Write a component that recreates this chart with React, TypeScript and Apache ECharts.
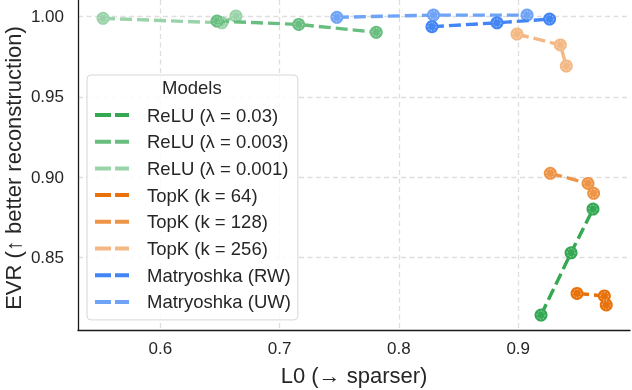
import React, { useEffect, useRef } from "react";
import * as echarts from "echarts";

// [L0, EVR]
const reluL003: number[][] = [[0.9191, 0.8141], [0.9443, 0.8529], [0.9627, 0.8801]];
const reluL0003: number[][] = [[0.6475, 0.9972], [0.716, 0.9951], [0.781, 0.9902]];
const reluL0001: number[][] = [[0.552, 0.9989], [0.6516, 0.9961], [0.6634, 1.0003]];
const topk64: number[][] = [[0.9493, 0.8276], [0.9722, 0.826], [0.9738, 0.8204]];
const topk128: number[][] = [[0.9269, 0.9024], [0.9585, 0.8961], [0.9632, 0.8899]];
const topk256: number[][] = [[0.899, 0.9891], [0.9353, 0.9823], [0.9403, 0.9692]];
const matRW: number[][] = [[0.8277, 0.9937], [0.8822, 0.9961], [0.9263, 0.9984]];
const matUW: number[][] = [[0.748, 0.9995], [0.829, 1.0009], [0.9074, 1.0009]];

const seriesNames = [
  "ReLU (λ = 0.03)",
  "ReLU (λ = 0.003)",
  "ReLU (λ = 0.001)",
  "TopK (k = 64)",
  "TopK (k = 128)",
  "TopK (k = 256)",
  "Matryoshka (RW)",
  "Matryoshka (UW)",
];
const seriesData = [reluL003, reluL0003, reluL0001, topk64, topk128, topk256, matRW, matUW];
const seriesColors = ["#34a853", "#67be7e", "#9ad3a9", "#e8710a", "#ee9447", "#f4b884", "#4285f4", "#6fa3f6"];
// drawing order (later = on top)
const drawOrder = [2, 1, 0, 5, 4, 3, 7, 6];

const xTitle = "L0 (→ sparser)";
const yTitle = "EVR (↑ better reconstruction)";
const legendTitle = "Models";

const FONT = "'Liberation Sans', Arial, Helvetica, sans-serif";
const TXT = "#262626";

export default function App() {
  const ref = useRef<HTMLDivElement>(null);
  useEffect(() => {
    if (!ref.current) return;
    const chart = echarts.init(ref.current, null, { renderer: "svg" });
    const series: any[] = [];
    drawOrder.forEach((i, k) => {
      series.push({
        name: seriesNames[i],
        type: "line",
        data: seriesData[i],
        symbol: "circle",
        symbolSize: 13,
        showSymbol: true,
        color: seriesColors[i],
        itemStyle: { color: seriesColors[i] },
        lineStyle: { color: seriesColors[i], width: 3.4, type: [12, 5] },
        z: 2 + k,
      });
    });
    const allPoints: number[][] = [];
    drawOrder.forEach((i) => seriesData[i].forEach((p) => allPoints.push(p)));
    series.push({
      name: "rings",
      type: "scatter",
      data: allPoints,
      symbol: "circle",
      symbolSize: 8,
      silent: true,
      itemStyle: {
        color: "transparent",
        borderColor: "rgba(255,255,255,0.85)",
        borderWidth: 0.8,
        borderType: [1.5, 1.5],
      },
      z: 20,
    });

    chart.setOption({
      animation: false,
      textStyle: { fontFamily: FONT },
      grid: {
        left: 78,
        right: 2,
        top: 0,
        bottom: 60,
        containLabel: false,
        outerBoundsMode: "none",
      },
      xAxis: {
        type: "value",
        min: 0.531,
        max: 0.9937,
        minInterval: 0.1,
        maxInterval: 0.1,
        name: xTitle,
        nameLocation: "middle",
        nameGap: 34,
        nameTextStyle: { fontSize: 22, color: TXT, fontFamily: FONT },
        axisLine: { show: true, lineStyle: { color: "#1a1a1a", width: 1.3 } },
        axisTick: { show: false },
        axisLabel: {
          fontSize: 17,
          color: TXT,
          fontFamily: FONT,
          margin: 10,
          showMinLabel: false,
          showMaxLabel: false,
          formatter: (v: number) => v.toFixed(1),
        },
        splitLine: {
          show: true,
          showMinLine: false,
          showMaxLine: false,
          lineStyle: { color: "#dedede", width: 1.3, type: [5, 3.5] },
        },
      },
      yAxis: {
        type: "value",
        min: 0.8048,
        max: 1.0103,
        minInterval: 0.05,
        maxInterval: 0.05,
        axisLine: { show: true, lineStyle: { color: "#1a1a1a", width: 1.3 } },
        axisTick: { show: false },
        axisLabel: {
          fontSize: 17,
          color: TXT,
          fontFamily: FONT,
          margin: 14,
          showMinLabel: false,
          showMaxLabel: false,
          formatter: (v: number) => v.toFixed(2),
        },
        splitLine: {
          show: true,
          showMinLine: false,
          showMaxLine: false,
          lineStyle: { color: "#dedede", width: 1.3, type: [5, 3.5] },
        },
      },
      legend: {
        orient: "vertical",
        left: 87,
        top: 75,
        padding: [30, 7, 8, 8],
        itemGap: 6.7,
        itemWidth: 34,
        itemHeight: 4,
        backgroundColor: "rgba(255,255,255,0.85)",
        borderColor: "#d6d6d6",
        borderWidth: 1,
        borderRadius: 4,
        data: seriesNames.map((n) => ({
          name: n,
          icon: "path://M0,0h16v4h-16zM20,0h14v4h-14z",
        })),
        textStyle: {
          fontSize: 18.5,
          color: TXT,
          fontFamily: FONT,
          lineHeight: 20,
          padding: [0, 0, 0, 13],
        },
        selectedMode: false,
      },
      graphic: [
        {
          type: "text",
          left: 162,
          top: 78,
          z: 100,
          style: { text: legendTitle, fontSize: 18.5, fill: TXT, fontFamily: FONT },
        },
        {
          type: "text",
          x: 13,
          y: 168,
          rotation: Math.PI / 2,
          z: 100,
          style: {
            text: yTitle,
            fontSize: 22,
            fill: TXT,
            fontFamily: FONT,
            textAlign: "center",
            textVerticalAlign: "middle",
            verticalAlign: "middle",
          },
        },
      ],
      series,
    });
    return () => chart.dispose();
  }, []);
  return (
    <div
      ref={ref}
      style={{ position: "fixed", left: 0, top: 0, width: 632, height: 390 }}
    />
  );
}
